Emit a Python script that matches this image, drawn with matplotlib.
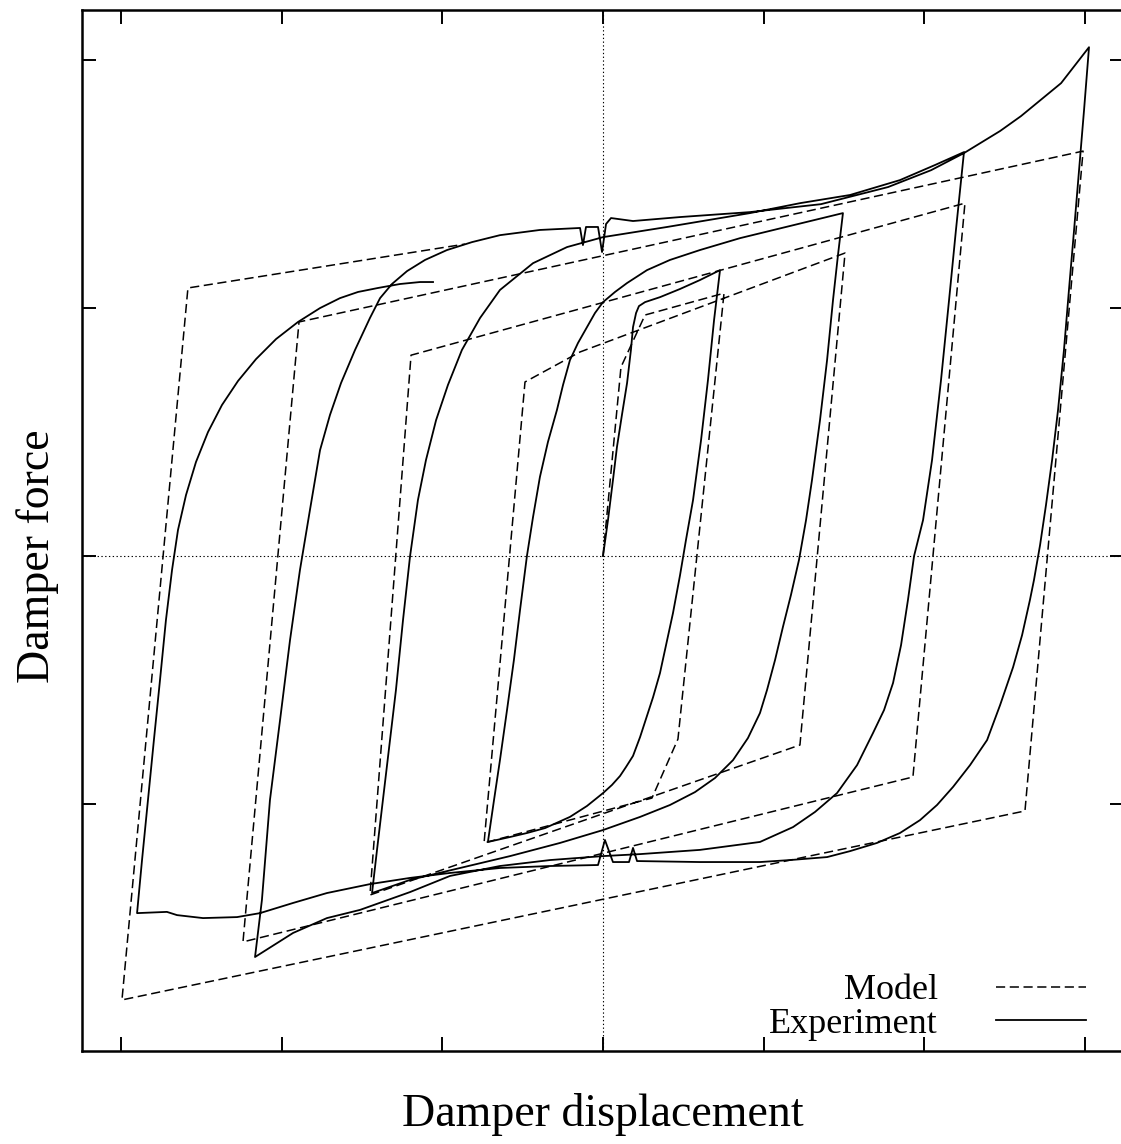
import matplotlib
matplotlib.use("Agg")
import matplotlib.pyplot as plt

plt.rcParams['font.family'] = ['Liberation Serif', 'DejaVu Serif']

# ---- Model (dashed) : spiral of piecewise-linear branches ----
model_disp = [0.000, 0.112, 0.262, 0.754,
              0.467, 0.305, -0.741,
              -0.486, -0.143, 1.508,
              1.227, -1.452,
              -1.196, 2.255,
              1.931, -2.243,
              -1.894, 2.991,
              2.629, -2.997,
              -2.586, -0.860]
model_force = [0.000, 0.762, 0.972, 1.060,
               -0.738, -0.976, -1.157,
               0.702, 0.823, 1.222,
               -0.762, -1.367,
               0.810, 1.423,
               -0.891, -1.556,
               0.944, 1.633,
               -1.028, -1.790,
               1.081, 1.258]

# ---- Experiment (solid) ----
exp_disp = [
    # up 1
    0.000, 0.031, 0.062, 0.087, 0.118, 0.150, 0.174, 0.187, 0.206, 0.224, 0.262, 0.355, 0.480, 0.604, 0.729,
    # down 1
    0.692, 0.654, 0.611, 0.561, 0.517, 0.480, 0.436, 0.393, 0.355, 0.312, 0.274, 0.231, 0.187, 0.143, 0.106,
    0.056, 0.000, -0.100, -0.206, -0.361, -0.474, -0.579, -0.717,
    # up 2
    -0.679, -0.642, -0.598, -0.555, -0.517, -0.474, -0.436, -0.393, -0.343, -0.287, -0.249, -0.206, -0.156,
    -0.100, -0.050, 0.000, 0.075, 0.150, 0.274, 0.417, 0.604, 0.854, 1.165, 1.495,
    # down 2
    1.464, 1.433, 1.396, 1.352, 1.302, 1.265, 1.221, 1.171, 1.121, 1.072, 1.022, 0.978, 0.903, 0.810, 0.698,
    0.573, 0.417, 0.231, 0.000, -0.268, -0.579, -0.891, -1.202, -1.439,
    # up 3
    -1.408, -1.371, -1.327, -1.290, -1.246, -1.202, -1.153, -1.103, -1.040, -0.966, -0.879, -0.766, -0.642,
    -0.436, -0.224, 0.000, 0.399, 0.916, 1.227, 1.539, 1.850, 2.069, 2.249,
    # down 3
    2.199, 2.156, 2.106, 2.050, 1.994, 1.938, 1.900, 1.857, 1.807, 1.751, 1.682, 1.583, 1.458, 1.321, 1.184,
    0.978, 0.604, 0.231, 0.000, -0.330, -0.642, -0.953, -1.202, -1.514, -1.720, -1.931, -2.168,
    # up 4
    -2.125, -2.075, -2.012, -1.950, -1.888, -1.826, -1.763, -1.701, -1.632, -1.545, -1.452, -1.389, -1.315,
    -1.221, -1.109, -0.972, -0.816, -0.642, -0.393, -0.143, -0.125, -0.106, -0.031, -0.006, 0.019, 0.050,
    0.187, 0.480, 0.916, 1.358, 1.776, 2.044, 2.249, 2.474, 2.604, 2.854, 3.028,
    # down 4
    2.997, 2.966, 2.935, 2.903, 2.872, 2.835, 2.798, 2.760, 2.723, 2.685, 2.660, 2.611,
    2.555, 2.474, 2.393, 2.287, 2.181,
    2.081, 1.975, 1.850, 1.707, 1.539, 1.396, 1.165, 0.978, 0.604, 0.212, 0.187, 0.162, 0.062, 0.012,
    -0.031, -0.330, -0.642, -0.953, -1.202, -1.452, -1.720, -1.931, -2.137, -2.280, -2.492, -2.654, -2.717,
    -2.903,
    # up 5
    -2.872, -2.835, -2.798, -2.760, -2.723, -2.685, -2.648, -2.598, -2.536, -2.461, -2.374, -2.274, -2.162,
    -2.037, -1.900, -1.763, -1.639, -1.526, -1.402, -1.265, -1.140, -1.059,
]
exp_force = [
    # up 1
    0.000, 0.145, 0.306, 0.440, 0.569, 0.698, 0.831, 0.923, 0.980, 1.008, 1.024, 1.044, 1.077, 1.113, 1.153,
    # down 1
    0.952, 0.710, 0.468, 0.226, 0.065, -0.077, -0.230, -0.359, -0.472, -0.569, -0.645, -0.730, -0.806, -0.851,
    -0.887, -0.923, -0.956, -1.008, -1.052, -1.097, -1.117, -1.133, -1.153,
    # up 2
    -0.984, -0.823, -0.621, -0.419, -0.218, 0.000, 0.157, 0.319, 0.460, 0.589, 0.690, 0.790, 0.859,
    0.923, 0.980, 1.024, 1.065, 1.101, 1.153, 1.194, 1.234, 1.282, 1.331, 1.383,
    # down 2
    1.214, 1.032, 0.790, 0.548, 0.306, 0.145, -0.016, -0.157, -0.286, -0.419, -0.540, -0.633, -0.734, -0.823,
    -0.895, -0.952, -1.004, -1.052, -1.105, -1.157, -1.210, -1.258, -1.306, -1.359,
    # up 3
    -1.185, -0.984, -0.742, -0.540, -0.258, 0.000, 0.226, 0.387, 0.548, 0.690, 0.831, 0.960, 1.073,
    1.181, 1.246, 1.286, 1.327, 1.383, 1.423, 1.456, 1.516, 1.577, 1.629,
    # down 3
    1.315, 1.032, 0.710, 0.387, 0.145, 0.000, -0.177, -0.359, -0.512, -0.621, -0.714, -0.843, -0.956, -1.032,
    -1.093, -1.153, -1.185, -1.202, -1.210, -1.226, -1.250, -1.290, -1.355, -1.427, -1.460, -1.520, -1.617,
    # up 4
    -1.387, -0.984, -0.661, -0.339, -0.056, 0.185, 0.427, 0.569, 0.698, 0.831, 0.960, 1.040, 1.097,
    1.149, 1.194, 1.234, 1.266, 1.294, 1.315, 1.323, 1.254, 1.327, 1.327, 1.226, 1.339, 1.363,
    1.351, 1.367, 1.387, 1.419, 1.488, 1.556, 1.625, 1.714, 1.774, 1.907, 2.052,
    # down 4
    1.798, 1.556, 1.315, 1.073, 0.831, 0.589, 0.387, 0.206, 0.044, -0.097, -0.177, -0.319,
    -0.448, -0.601, -0.742, -0.843, -0.931,
    -1.004, -1.065, -1.117, -1.157, -1.190, -1.214, -1.226, -1.234, -1.234, -1.230, -1.177, -1.234,
    -1.234, -1.145, -1.246, -1.250, -1.258, -1.278, -1.298, -1.323, -1.359, -1.399, -1.440, -1.456, -1.460,
    -1.448, -1.435, -1.440,
    # up 5
    -1.226, -0.984, -0.742, -0.500, -0.258, -0.056, 0.105, 0.246, 0.379, 0.500, 0.609, 0.706, 0.794,
    0.875, 0.944, 1.000, 1.040, 1.065, 1.081, 1.097, 1.105, 1.105,
]

x_ticks = [-3, -2, -1, 0, 1, 2, 3]
y_ticks = [-1, 0, 1, 2]

n = min(len(exp_disp), len(exp_force))

fig = plt.figure(figsize=(11.21, 11.44), dpi=100)
ax = fig.add_axes([82 / 1121, (1144 - 1051) / 1144, 1042 / 1121, 1041 / 1144])

ax.axhline(0, color='black', lw=0.8, ls=(0, (1.2, 2.2)), zorder=1)
ax.axvline(0, color='black', lw=0.8, ls=(0, (1.2, 2.2)), zorder=1)

ax.plot(model_disp, model_force, color='black', lw=1.1, dashes=(6.0, 3.0), label='Model', zorder=2)
ax.plot(exp_disp[:n], exp_force[:n], color='black', lw=1.3, label='Experiment', zorder=3)

ax.set_xlim(-3.246, 3.246)
ax.set_ylim(-1.996, 2.202)
ax.set_xticks(x_ticks)
ax.set_yticks(y_ticks)
ax.tick_params(direction='in', length=10, width=1.4, top=True, right=True,
               labelbottom=False, labelleft=False)
for s in ax.spines.values():
    s.set_linewidth(1.8)

ax.set_xlabel('Damper displacement', fontsize=33, labelpad=30)
ax.set_ylabel('Damper force', fontsize=33)
ax.yaxis.set_label_coords(-0.022, 0.4755)

ax.legend(loc='lower right', bbox_to_anchor=(0.9635, 0.010), markerfirst=False, frameon=False,
          fontsize=26, handlelength=2.5, handletextpad=1.6, labelspacing=0.0,
          borderpad=0, borderaxespad=0)

fig.savefig('out.png', dpi=100)
